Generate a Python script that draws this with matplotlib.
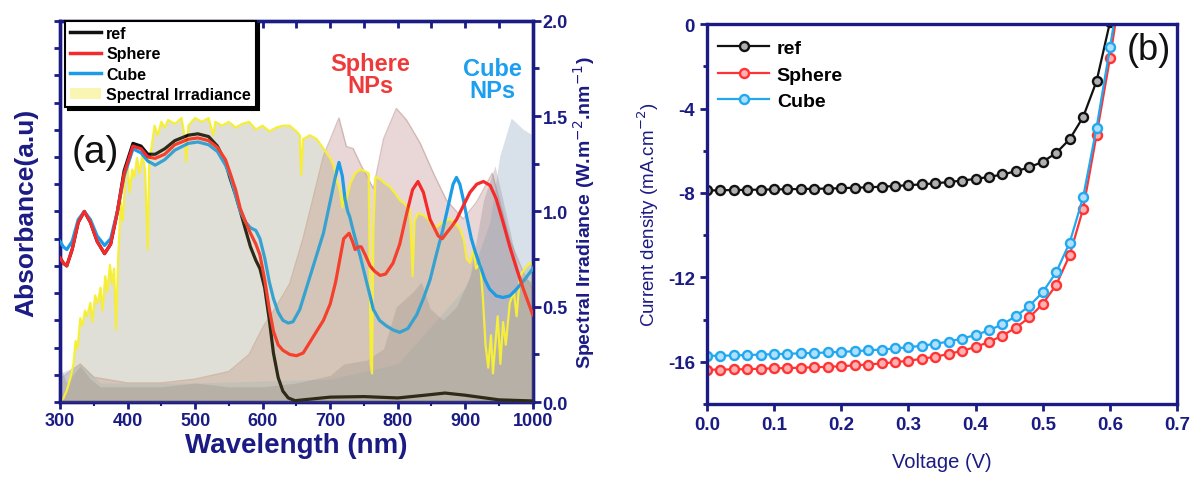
import matplotlib
matplotlib.use('Agg')
import matplotlib.pyplot as plt
from matplotlib.patches import Patch
from matplotlib.lines import Line2D
from matplotlib.ticker import MultipleLocator, FormatStrFormatter, NullFormatter

plt.rcParams['font.family'] = ['Liberation Sans', 'DejaVu Sans']

NAVY = '#1b1b84'

# ---------------- (a) absorbance spectra (a.u.) ----------------
ref_wl = [300, 305, 310, 318, 327, 336, 345, 355, 366, 375, 385, 395, 408, 420, 430, 441, 455, 470,
          490, 504, 520, 533, 545, 552, 560, 567, 575, 582, 590, 596, 603, 610, 616, 623, 630, 638,
          648, 660, 700, 750, 800, 840, 870, 900, 950, 1000]
ref_abs = [0.53, 0.51, 0.50, 0.56, 0.66, 0.70, 0.66, 0.59, 0.545, 0.58, 0.70, 0.85, 0.95, 0.94, 0.91,
           0.91, 0.93, 0.96, 0.98, 0.985, 0.975, 0.94, 0.88, 0.82, 0.76, 0.70, 0.63, 0.57, 0.52, 0.49,
           0.42, 0.30, 0.18, 0.09, 0.04, 0.015, 0.005, 0.008, 0.018, 0.02, 0.015, 0.025, 0.033, 0.025,
           0.008, 0.004]

sph_wl = [300, 305, 310, 318, 327, 336, 345, 355, 366, 375, 385, 395, 408, 420, 430, 441, 455, 470,
          490, 504, 520, 533, 545, 552, 560, 567, 575, 582, 590, 596, 603, 610, 616, 623, 630, 640,
          650, 660, 670, 680, 690, 700, 708, 714, 720, 728, 733, 737, 742, 746, 752, 759, 766, 774,
          782, 793, 803, 813, 822, 830, 838, 848, 860, 866, 872, 880, 887, 897, 907, 917, 927, 937,
          946, 956, 966, 976, 986, 1000]
sph_abs = [0.53, 0.51, 0.50, 0.56, 0.66, 0.70, 0.66, 0.59, 0.545, 0.58, 0.70, 0.84, 0.94, 0.93, 0.90,
           0.895, 0.91, 0.945, 0.965, 0.97, 0.96, 0.935, 0.89, 0.84, 0.78, 0.71, 0.66, 0.62, 0.58,
           0.54, 0.45, 0.34, 0.26, 0.21, 0.19, 0.175, 0.17, 0.18, 0.22, 0.26, 0.30, 0.36, 0.44, 0.52,
           0.60, 0.62, 0.59, 0.56, 0.57, 0.57, 0.54, 0.50, 0.48, 0.465, 0.47, 0.51, 0.58, 0.69, 0.78,
           0.81, 0.77, 0.67, 0.61, 0.60, 0.62, 0.645, 0.67, 0.72, 0.77, 0.80, 0.81, 0.795, 0.745,
           0.66, 0.57, 0.49, 0.415, 0.32]

cub_wl = [300, 305, 310, 318, 327, 336, 345, 355, 366, 375, 385, 395, 408, 420, 430, 441, 455, 470,
          490, 504, 520, 533, 545, 552, 560, 567, 575, 582, 590, 596, 603, 610, 616, 623, 630, 638,
          645, 655, 670, 680, 690, 696, 702, 707, 713, 718, 722, 726, 729, 735, 744, 754, 764, 773,
          783, 793, 803, 815, 828, 838, 848, 857, 867, 872, 877, 882, 887, 892, 897, 903, 909, 915,
          922, 929, 936, 946, 956, 966, 976, 988, 1000]
cub_abs = [0.59, 0.57, 0.56, 0.59, 0.67, 0.70, 0.67, 0.61, 0.575, 0.60, 0.70, 0.83, 0.93, 0.915,
           0.885, 0.87, 0.89, 0.925, 0.95, 0.955, 0.945, 0.92, 0.87, 0.83, 0.76, 0.70, 0.66, 0.64,
           0.63, 0.60, 0.53, 0.44, 0.38, 0.33, 0.30, 0.29, 0.295, 0.34, 0.46, 0.54, 0.62, 0.69, 0.76,
           0.82, 0.88, 0.83, 0.745, 0.70, 0.68, 0.62, 0.54, 0.44, 0.34, 0.30, 0.28, 0.265, 0.256,
           0.27, 0.32, 0.38, 0.45, 0.54, 0.635, 0.69, 0.745, 0.80, 0.825, 0.80, 0.745, 0.67, 0.60,
           0.55, 0.50, 0.45, 0.415, 0.39, 0.384, 0.39, 0.415, 0.45, 0.49]

# spectral irradiance (W m-2 nm-1), right axis
spec_wl = [300, 305, 310, 315, 320, 323, 326, 330, 333, 337, 340, 345, 348, 352, 356, 360, 363, 367,
           370, 374, 377, 380, 383, 386, 390, 393, 397, 400, 403, 407, 410, 414, 418, 422, 426, 430,
           432, 436, 440, 445, 450, 455, 460, 470, 480, 485, 487, 490, 500, 510, 520, 527, 530, 540,
           550, 560, 570, 580, 590, 600, 610, 620, 630, 640, 650, 655, 657, 660, 670, 680, 690, 700,
           705, 710, 714, 718, 721, 724, 730, 737, 744, 752, 757, 760, 762, 764, 767, 774, 780, 788,
           795, 803, 810, 818, 822, 825, 830, 838, 845, 850, 858, 865, 877, 885, 892, 898, 902, 907,
           912, 916, 922, 926, 930, 934, 938, 941, 944, 948, 952, 956, 960, 966, 972, 976, 981, 988,
           996, 1000]
spec_irr = [0.0, 0.02, 0.06, 0.12, 0.20, 0.32, 0.28, 0.44, 0.40, 0.48, 0.45, 0.52, 0.42, 0.56, 0.52,
            0.60, 0.48, 0.66, 0.58, 0.72, 0.62, 0.70, 0.38, 0.75, 1.05, 0.95, 1.20, 1.24, 1.10, 1.22,
            1.18, 1.28, 1.20, 1.30, 1.22, 0.80, 1.25, 1.35, 1.45, 1.40, 1.47, 1.44, 1.48, 1.46, 1.49,
            1.38, 1.26, 1.45, 1.49, 1.47, 1.49, 1.40, 1.47, 1.45, 1.47, 1.44, 1.46, 1.47, 1.43, 1.45,
            1.42, 1.44, 1.45, 1.45, 1.42, 1.40, 1.19, 1.38, 1.40, 1.38, 1.33, 1.28, 1.24, 1.16, 1.12,
            1.02, 1.10, 1.06, 1.15, 1.20, 1.22, 1.21, 1.20, 0.20, 0.15, 0.90, 1.18, 1.17, 1.15, 1.13,
            1.10, 1.06, 1.04, 1.01, 0.66, 0.95, 0.99, 0.98, 0.96, 0.93, 0.92, 0.94, 0.96, 0.94, 0.91,
            0.85, 0.75, 0.73, 0.80, 0.70, 0.73, 0.55, 0.30, 0.18, 0.35, 0.15, 0.28, 0.45, 0.20, 0.42,
            0.30, 0.52, 0.58, 0.45, 0.66, 0.70, 0.73, 0.72]

# shaded NP absorption profiles (right-axis scale)
pink_wl = [300, 330, 350, 400, 450, 500, 550, 580, 600, 620, 640, 660, 690, 713, 724, 734, 746, 764,
           779, 798, 813, 833, 853, 872, 897, 917, 940, 966, 986, 1000]
pink_val = [0.12, 0.20, 0.13, 0.10, 0.10, 0.12, 0.16, 0.25, 0.39, 0.50, 0.62, 0.86, 1.29, 1.49, 1.34,
            1.33, 1.24, 1.12, 1.38, 1.54, 1.48, 1.36, 1.20, 1.06, 0.96, 1.05, 1.20, 0.85, 0.68, 0.59]

gray_wl = [300, 310, 330, 345, 360, 450, 500, 550, 600, 650, 700, 720, 754, 779, 798, 823, 835, 848,
           867, 887, 907, 927, 944, 961, 981, 1000]
gray_val = [0.19, 0.10, 0.19, 0.12, 0.08, 0.08, 0.10, 0.08, 0.08, 0.10, 0.14, 0.20, 0.22, 0.28, 0.50,
            0.58, 0.63, 0.49, 0.43, 0.50, 0.66, 1.06, 1.24, 0.98, 0.66, 0.63]

blue_wl = [300, 330, 360, 500, 700, 800, 900, 917, 936, 951, 968, 986, 1000]
blue_val = [0.15, 0.20, 0.10, 0.10, 0.12, 0.20, 0.60, 0.75, 0.94, 1.29, 1.49, 1.43, 1.40]

# ---------------- (b) J-V curves ----------------
volt_ref = [0.00, 0.02, 0.04, 0.06, 0.08, 0.10, 0.12, 0.14, 0.16, 0.18, 0.20, 0.22, 0.24, 0.26, 0.28,
            0.30, 0.32, 0.34, 0.36, 0.38, 0.40, 0.42, 0.44, 0.46, 0.48, 0.50, 0.52, 0.54, 0.56, 0.58,
            0.60]
j_ref = [-7.88, -7.87, -7.86, -7.85, -7.84, -7.83, -7.82, -7.81, -7.80, -7.79, -7.77, -7.75, -7.73,
         -7.70, -7.67, -7.63, -7.59, -7.54, -7.48, -7.41, -7.33, -7.24, -7.12, -6.97, -6.78, -6.52,
         -6.10, -5.45, -4.40, -2.70, 0.10]

volt_np = [0.00, 0.02, 0.04, 0.06, 0.08, 0.10, 0.12, 0.14, 0.16, 0.18, 0.20, 0.22, 0.24, 0.26, 0.28,
           0.30, 0.32, 0.34, 0.36, 0.38, 0.40, 0.42, 0.44, 0.46, 0.48, 0.50, 0.52, 0.54, 0.56, 0.58,
           0.60, 0.62]
j_sphere = [-16.38, -16.37, -16.36, -16.35, -16.33, -16.31, -16.30, -16.28, -16.26, -16.24, -16.21,
            -16.17, -16.13, -16.08, -16.02, -15.95, -15.86, -15.76, -15.63, -15.48, -15.30, -15.06,
            -14.76, -14.38, -13.90, -13.25, -12.35, -10.95, -8.75, -5.25, -1.60, 2.5]
j_cube = [-15.72, -15.71, -15.70, -15.68, -15.66, -15.64, -15.62, -15.60, -15.58, -15.56, -15.53,
          -15.50, -15.46, -15.42, -15.37, -15.31, -15.24, -15.15, -15.04, -14.90, -14.73, -14.51,
          -14.22, -13.84, -13.35, -12.70, -11.75, -10.35, -8.20, -4.90, -1.10, 2.8]

fig = plt.figure(figsize=(12, 4.85), dpi=100)

# ===== panel (a) =====
ax1 = fig.add_axes([0.050, 0.169, 0.394, 0.786])
ax2 = ax1.twinx()
ax1.set_zorder(ax2.get_zorder() + 1)
ax1.patch.set_visible(False)

# background fills (right axis)
ax2.fill_between(spec_wl, 0, spec_irr, color='#dde1ee', lw=0, zorder=1)
ax2.fill_between(pink_wl, 0, pink_val, color='#b88480', alpha=0.32, lw=0, zorder=2)
ax2.plot(pink_wl, pink_val, color='#c09a96', lw=1, alpha=0.6, zorder=2)
ax2.fill_between(blue_wl, 0, blue_val, color='#9fb6c8', alpha=0.40, lw=0, zorder=3)
ax2.fill_between(gray_wl, 0, gray_val, color='#8c8490', alpha=0.30, lw=0, zorder=4)

# spectral line + absorbance curves
ax1.plot(spec_wl, spec_irr, color='#f6f03a', lw=1.6, transform=ax2.transData, zorder=2)
ax1.plot(ref_wl, ref_abs, color='#111111', lw=2.3, zorder=3, label='ref')
ax1.plot(cub_wl, cub_abs, color='#1c9be6', lw=2.3, zorder=3, label='Cube')
ax1.plot(sph_wl, sph_abs, color='#f52a2a', lw=2.3, zorder=3, label='Sphere')
# translucent irradiance overlay on top of the curves
ax1.fill_between(spec_wl, 0, spec_irr, color='#f0d840', alpha=0.13, lw=0,
                 transform=ax2.transData, zorder=4)

ax1.set_xlim(300, 1000)
ax1.set_ylim(0, 1.4)
ax2.set_ylim(0, 2.0)

ax1.xaxis.set_major_locator(MultipleLocator(100))
ax1.xaxis.set_minor_locator(MultipleLocator(50))
ax1.yaxis.set_major_locator(MultipleLocator(0.1))
ax1.yaxis.set_major_formatter(NullFormatter())
ax2.yaxis.set_major_locator(MultipleLocator(0.5))
ax2.yaxis.set_minor_locator(MultipleLocator(0.25))
ax2.yaxis.set_major_formatter(FormatStrFormatter('%.1f'))

ax1.tick_params(axis='x', which='major', direction='out', length=5, width=2, colors=NAVY,
                labelsize=13, pad=2)
ax1.tick_params(axis='x', which='minor', direction='out', length=3, width=1.5, colors=NAVY)
ax1.tick_params(axis='y', which='major', direction='out', length=4, width=2, colors=NAVY)
ax2.tick_params(axis='y', which='major', direction='out', length=6, width=2, colors=NAVY,
                labelsize=13, pad=1)
ax2.tick_params(axis='y', which='minor', direction='out', length=4, width=2, colors=NAVY)
for lab in ax1.get_xticklabels() + ax2.get_yticklabels():
    lab.set_fontweight('bold')

top = ax1.secondary_xaxis('top')
top.xaxis.set_major_locator(MultipleLocator(50))
top.tick_params(direction='in', length=5, width=2, colors=NAVY, labeltop=False)

for a in (ax1, ax2):
    for s in a.spines.values():
        s.set_color(NAVY)
        s.set_linewidth(2.4)
top.spines['top'].set_visible(False)

ax1.set_xlabel('Wavelength (nm)', fontsize=20, fontweight='bold', color=NAVY, labelpad=2)
ax1.set_ylabel('Absorbance(a.u)', fontsize=19, fontweight='bold', color=NAVY, labelpad=8)
ax2.set_ylabel('Spectral Irradiance (W.m$^{-2}$.nm$^{-1}$)', fontsize=14, fontweight='bold',
               color=NAVY, labelpad=2)

ax2.text(759, 1.72, 'Sphere\nNPs', color='#ee3a3a', fontsize=17, fontweight='bold',
         ha='center', va='center', linespacing=0.95)
ax2.text(940, 1.69, 'Cube\nNPs', color='#1d9ff0', fontsize=17, fontweight='bold',
         ha='center', va='center', linespacing=0.95)
ax1.text(0.075, 0.655, '(a)', transform=ax1.transAxes, fontsize=28, ha='center', va='center',
         color='#111111', zorder=6)

handles_a = [Line2D([], [], color='#111111', lw=2.5),
             Line2D([], [], color='#f52a2a', lw=2.5),
             Line2D([], [], color='#1c9be6', lw=2.5),
             Patch(facecolor='#f9f6b4', edgecolor='none')]
leg_a = ax1.legend(handles_a, ['ref', 'Sphere', 'Cube', 'Spectral Irradiance'],
                   loc='upper left', bbox_to_anchor=(0.01, 1.0),
                   prop={'weight': 'bold', 'size': 11.5}, frameon=True, fancybox=False,
                   shadow={'color': 'black', 'alpha': 1}, borderpad=0.3, labelspacing=0.35,
                   handlelength=2.0, handletextpad=0.3, borderaxespad=0.0)
leg_a.get_frame().set_edgecolor('black')
leg_a.get_frame().set_linewidth(1.5)
leg_a.set_zorder(10)

# ===== panel (b) =====
bx = fig.add_axes([0.589, 0.165, 0.392, 0.783])
bx.plot(volt_ref, j_ref, color='#111111', lw=1.6, marker='o', ms=6.5, mfc='#b0b0b0', mew=1.7,
        label='ref')
bx.plot(volt_np, j_sphere, color='#ff3333', lw=1.6, marker='o', ms=6.5, mfc='#ffb0b0', mew=1.7,
        label='Sphere')
bx.plot(volt_np, j_cube, color='#22a8ee', lw=1.6, marker='o', ms=6.5, mfc='#b0e0ff', mew=1.7,
        label='Cube')

bx.set_xlim(0, 0.7)
bx.set_ylim(-18, 0)
bx.xaxis.set_major_locator(MultipleLocator(0.1))
bx.xaxis.set_major_formatter(FormatStrFormatter('%.1f'))
bx.yaxis.set_major_locator(MultipleLocator(4))
bx.yaxis.set_minor_locator(MultipleLocator(2))
bx.yaxis.set_major_formatter(FormatStrFormatter('%d'))
bx.tick_params(axis='both', which='major', direction='out', length=5, width=2, colors=NAVY,
               labelsize=13.5)
bx.tick_params(axis='y', which='minor', direction='out', length=3, width=2, colors=NAVY)
for lab in bx.get_xticklabels() + bx.get_yticklabels():
    lab.set_fontweight('bold')
for s in bx.spines.values():
    s.set_color(NAVY)
    s.set_linewidth(2.4)

bx.set_xlabel('Voltage (V)', fontsize=14.5, color=NAVY, labelpad=14)
bx.set_ylabel('Current density (mA.cm$^{-2}$)', fontsize=13.5, color=NAVY, labelpad=5)
bx.text(0.658, -1.2, '(b)', fontsize=26, ha='center', va='center', color='#111111')

leg_b = bx.legend(loc='upper left', bbox_to_anchor=(0.0, 0.99), frameon=False,
                  prop={'weight': 'bold', 'size': 14}, handlelength=2.6, handletextpad=0.4,
                  labelspacing=0.45, borderaxespad=0.2, numpoints=1)

fig.savefig('out.png', dpi=100)
